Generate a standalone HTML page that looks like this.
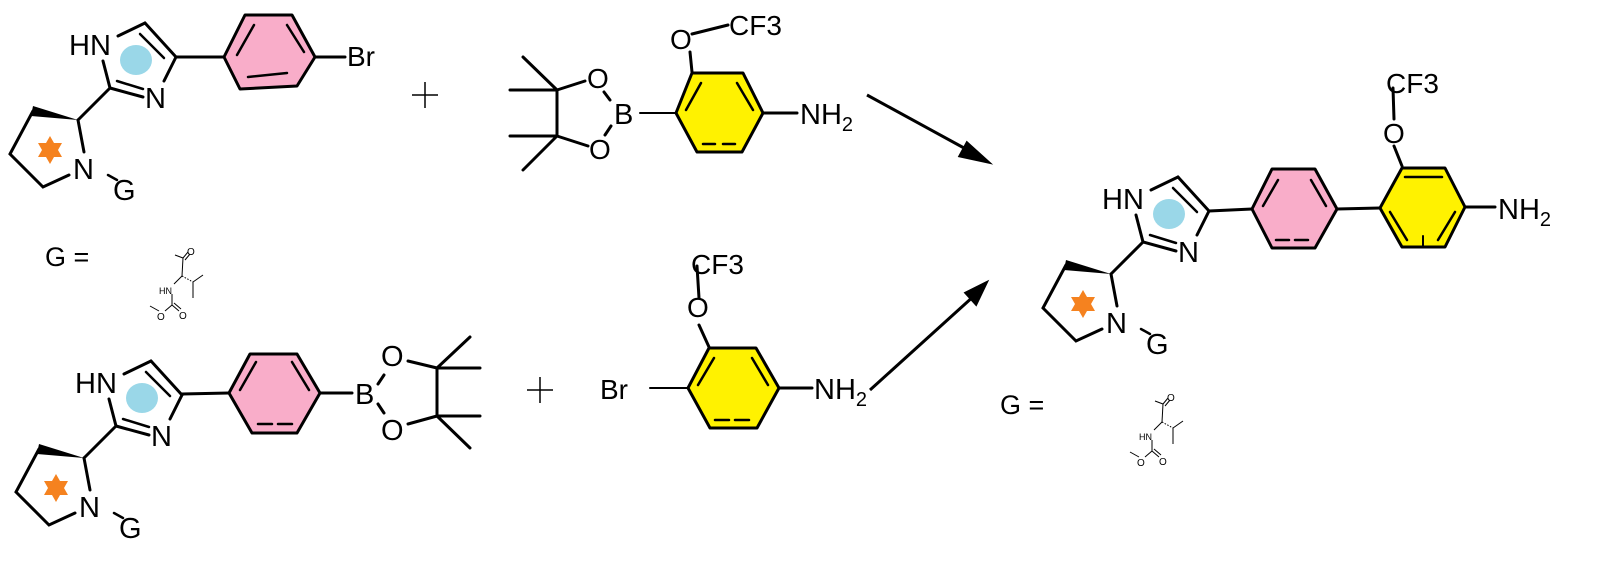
<!DOCTYPE html>
<html><head><meta charset="utf-8"><style>
html,body{margin:0;padding:0;background:#fff;}
svg{display:block;}
text{font-family:"Liberation Sans",sans-serif;fill:#000;}
</style></head><body>
<svg width="1600" height="568" viewBox="0 0 1600 568" xmlns="http://www.w3.org/2000/svg">
<defs>
<g id="frag" stroke="#000" stroke-width="3" fill="none" stroke-linecap="round">
  <ellipse cx="136" cy="60" rx="16" ry="15" fill="#9ad7e8" stroke="none"/>
  <line x1="118" y1="36" x2="145" y2="23"/>
  <line x1="145" y1="23" x2="176" y2="57"/>
  <line x1="140" y1="34" x2="164" y2="58" stroke-width="2.5"/>
  <line x1="176" y1="57" x2="164" y2="81"/>
  <line x1="103" y1="61" x2="110" y2="88"/>
  <line x1="110" y1="88" x2="143" y2="97"/>
  <line x1="117" y1="81" x2="143" y2="89" stroke-width="2.5"/>
  <line x1="110" y1="88" x2="78" y2="120"/>
  <polygon points="78,120 33,106 31,116" fill="#000" stroke="none"/>
  <polyline points="33,111 10,154 43,187 69,175"/>
  <line x1="78" y1="120" x2="84" y2="152"/>
  <line x1="108" y1="175" x2="117" y2="180" stroke-width="2.5"/>
  <polygon points="50,136 54,143 62,143 58,150 62,157 54,157 50,164 46,157 38,157 42,150 38,143 46,143" fill="#f5821f" stroke="none"/>
  <text x="69" y="55" font-size="29" stroke="none">HN</text>
  <text x="145" y="108" font-size="29" stroke="none">N</text>
  <text x="73" y="179" font-size="29" stroke="none">N</text>
  <text x="113" y="200" font-size="29" stroke="none">G</text>
</g>
<g id="gstr" stroke="#000" stroke-width="1" fill="none">
  <line x1="175" y1="255" x2="183" y2="258"/>
  <line x1="183" y1="258" x2="188" y2="252"/>
  <line x1="185" y1="260" x2="190" y2="254"/>
  <line x1="183" y1="258" x2="182" y2="276"/>
  <line x1="182" y1="276" x2="174" y2="284"/>
  <line x1="182" y1="276" x2="193" y2="282" stroke-dasharray="1.5,1.5"/>
  <line x1="193" y1="282" x2="203" y2="275"/>
  <line x1="193" y1="282" x2="193" y2="298"/>
  <line x1="172" y1="294" x2="172" y2="305"/>
  <line x1="172" y1="305" x2="179" y2="311"/>
  <line x1="174" y1="303" x2="181" y2="309"/>
  <line x1="172" y1="305" x2="165" y2="311"/>
  <line x1="159" y1="311" x2="150" y2="306"/>
  <text x="187" y="255" font-size="10" stroke="none">O</text>
  <text x="159" y="294" font-size="9" stroke="none">HN</text>
  <text x="179" y="319" font-size="10" stroke="none">O</text>
  <text x="157" y="320" font-size="10" stroke="none">O</text>
</g>
</defs>

<!-- top left reactant -->
<use href="#frag"/>
<g stroke="#000" stroke-width="3" fill="none" stroke-linecap="round">
  <line x1="176" y1="57" x2="224" y2="57"/>
  <polygon points="224,57 245,15 292,15 315,57 297,86 240,89" fill="#f9adc9" stroke-linejoin="round"/>
  <line x1="237" y1="55" x2="254" y2="25" stroke-width="2.5"/>
  <line x1="287" y1="25" x2="304" y2="52" stroke-width="2.5"/>
  <line x1="248" y1="77" x2="287" y2="73" stroke-width="2.5"/>
  <line x1="315" y1="57" x2="345" y2="57"/>
</g>
<text x="347" y="66" font-size="28">Br</text>

<!-- plus signs -->
<g stroke="#000" stroke-width="1.5">
  <line x1="412" y1="95" x2="438" y2="95"/><line x1="425" y1="82" x2="425" y2="108"/>
  <line x1="527" y1="390" x2="553" y2="390"/><line x1="540" y1="377" x2="540" y2="403"/>
</g>

<!-- top boronate -->
<g stroke="#000" stroke-width="3" fill="none" stroke-linecap="round">
  <polygon points="692,73 743,73 763,113 742,152 697,152 676,113" fill="#fff200" stroke-linejoin="round"/>
  <line x1="686" y1="110" x2="701" y2="83" stroke-width="2.5"/>
  <line x1="737" y1="83" x2="753" y2="110" stroke-width="2.5"/>
  <line x1="703" y1="144" x2="737" y2="144" stroke-width="2.5" stroke-dasharray="12,8"/>
  <line x1="640" y1="113" x2="676" y2="113" stroke-width="2"/>
  <line x1="763" y1="113" x2="797" y2="113"/>
  <line x1="690" y1="52" x2="692" y2="72"/>
  <line x1="692" y1="34" x2="728" y2="25"/>
  <line x1="557" y1="90" x2="523" y2="57"/>
  <line x1="557" y1="90" x2="510" y2="90"/>
  <line x1="557" y1="136" x2="510" y2="136"/>
  <line x1="557" y1="136" x2="523" y2="170"/>
  <line x1="557" y1="90" x2="557" y2="136"/>
  <line x1="557" y1="90" x2="585" y2="81"/>
  <line x1="557" y1="136" x2="588" y2="146"/>
  <line x1="604" y1="92" x2="610" y2="100"/>
  <line x1="605" y1="135" x2="611" y2="126"/>
</g>
<text x="587" y="88" font-size="28">O</text>
<text x="589" y="159" font-size="28">O</text>
<text x="614" y="124" font-size="29">B</text>
<text x="670" y="49" font-size="28">O</text>
<text x="729" y="35" font-size="28">CF3</text>
<text x="800" y="124" font-size="29">NH<tspan font-size="20" dy="7">2</tspan></text>

<!-- bottom left reactant -->
<use href="#frag" transform="translate(6,338)"/>
<g stroke="#000" stroke-width="3" fill="none" stroke-linecap="round">
  <line x1="182" y1="394" x2="229" y2="393"/>
  <polygon points="229,393 250,354 297,354 320,393 297,433 252,433" fill="#f9adc9" stroke-linejoin="round"/>
  <line x1="240" y1="390" x2="256" y2="362" stroke-width="2.5"/>
  <line x1="292" y1="362" x2="309" y2="390" stroke-width="2.5"/>
  <line x1="258" y1="424" x2="294" y2="424" stroke-width="2.5" stroke-dasharray="14,6"/>
  <line x1="320" y1="393" x2="352" y2="393"/>
  <line x1="378" y1="384" x2="384" y2="375"/>
  <line x1="378" y1="404" x2="384" y2="413"/>
  <line x1="408" y1="361" x2="437" y2="368"/>
  <line x1="408" y1="424" x2="437" y2="416"/>
  <line x1="437" y1="368" x2="437" y2="416"/>
  <line x1="437" y1="368" x2="470" y2="337"/>
  <line x1="437" y1="368" x2="480" y2="368"/>
  <line x1="437" y1="416" x2="480" y2="416"/>
  <line x1="437" y1="416" x2="470" y2="448"/>
</g>
<text x="355" y="404" font-size="29">B</text>
<text x="381" y="366" font-size="29">O</text>
<text x="381" y="440" font-size="29">O</text>

<!-- bottom bromide -->
<g stroke="#000" stroke-width="3" fill="none" stroke-linecap="round">
  <polygon points="709,348 756,348 779,388 757,428 710,428 688,388" fill="#fff200" stroke-linejoin="round"/>
  <line x1="698" y1="385" x2="714" y2="358" stroke-width="2.5"/>
  <line x1="752" y1="358" x2="768" y2="385" stroke-width="2.5"/>
  <line x1="715" y1="420" x2="755" y2="420" stroke-width="2.5" stroke-dasharray="14,6"/>
  <line x1="650" y1="388" x2="688" y2="388" stroke-width="2"/>
  <line x1="779" y1="388" x2="812" y2="388"/>
  <line x1="699" y1="325" x2="709" y2="347"/>
  <line x1="699" y1="298" x2="697" y2="266"/>
</g>
<text x="600" y="399" font-size="28">Br</text>
<text x="687" y="317" font-size="28">O</text>
<text x="691" y="274" font-size="28">CF3</text>
<text x="814" y="399" font-size="29">NH<tspan font-size="20" dy="7">2</tspan></text>

<!-- arrows -->
<g stroke="#000" stroke-width="3" fill="#000">
  <line x1="867" y1="95" x2="975" y2="154"/>
  <polygon points="988,162 967,143 960,156"/>
  <line x1="870" y1="390" x2="975" y2="295"/>
  <polygon points="986,283 966,293 976,304"/>
</g>

<!-- G = labels -->
<text x="45" y="266" font-size="27">G =</text>
<use href="#gstr"/>
<text x="1000" y="414" font-size="27">G =</text>
<use href="#gstr" transform="translate(980,146)"/>

<!-- product -->
<use href="#frag" transform="translate(1033,154)"/>
<g stroke="#000" stroke-width="3" fill="none" stroke-linecap="round">
  <line x1="1209" y1="211" x2="1252" y2="209"/>
  <polygon points="1252,209 1272,169 1315,169 1337,209 1315,248 1272,248" fill="#f9adc9" stroke-linejoin="round"/>
  <line x1="1263" y1="206" x2="1278" y2="180" stroke-width="2.5"/>
  <line x1="1311" y1="180" x2="1326" y2="206" stroke-width="2.5"/>
  <line x1="1276" y1="240" x2="1312" y2="240" stroke-width="2.5" stroke-dasharray="13,6"/>
  <line x1="1337" y1="209" x2="1380" y2="208"/>
  <polygon points="1380,208 1402,168 1445,168 1465,207 1445,247 1402,247" fill="#fff200" stroke-linejoin="round"/>
  <line x1="1405" y1="177" x2="1442" y2="177" stroke-width="2.5"/>
  <line x1="1390" y1="212" x2="1407" y2="240" stroke-width="2.5"/>
  <line x1="1455" y1="212" x2="1438" y2="240" stroke-width="2.5"/>
  <line x1="1423" y1="236" x2="1423" y2="247" stroke-width="2"/>
  <line x1="1465" y1="207" x2="1495" y2="207"/>
  <line x1="1402" y1="166" x2="1394" y2="146"/>
  <line x1="1394" y1="119" x2="1393" y2="88"/>
</g>
<text x="1383" y="143" font-size="28">O</text>
<text x="1386" y="93" font-size="28">CF3</text>
<text x="1498" y="219" font-size="29">NH<tspan font-size="20" dy="7">2</tspan></text>
</svg>
</body></html>
